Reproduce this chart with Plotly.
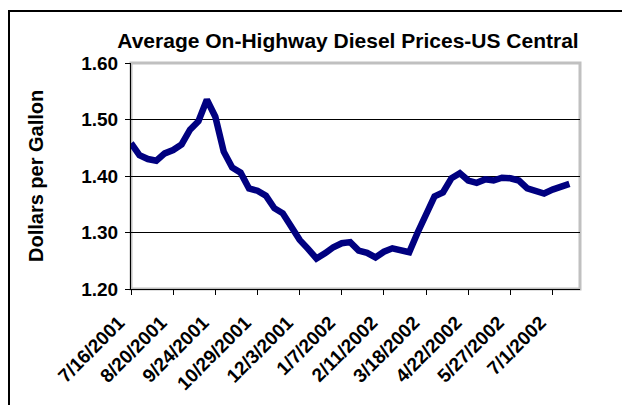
import datetime as dt
import plotly.graph_objects as go

start = dt.date(2001, 7, 16)
weeks = list(range(53))
dates = [(start + dt.timedelta(days=7 * w)).isoformat() for w in weeks]

prices = [1.458, 1.437, 1.430, 1.427, 1.440, 1.446, 1.456, 1.482, 1.497, 1.535,
          1.505, 1.443, 1.415, 1.406, 1.378, 1.374, 1.365, 1.343, 1.334, 1.310,
          1.287, 1.271, 1.254, 1.263, 1.274, 1.281, 1.283, 1.268, 1.264, 1.256,
          1.266, 1.272, 1.269, 1.265, 1.300, 1.334, 1.364, 1.371, 1.396, 1.405,
          1.392, 1.388, 1.394, 1.392, 1.397, 1.396, 1.392, 1.378, 1.372, 1.369,
          1.376, 1.380, 1.386]

tick_dates = dates[::5]
tick_labels = ["7/16/2001", "8/20/2001", "9/24/2001", "10/29/2001", "12/3/2001",
               "1/7/2002", "2/11/2002", "3/18/2002", "4/22/2002", "5/27/2002",
               "7/1/2002"]
y_ticks = [1.20, 1.30, 1.40, 1.50, 1.60]
y_labels = ["1.20", "1.30", "1.40", "1.50", "1.60"]

FONT = "Liberation Sans, Arial, sans-serif"

# figure is drawn 8px in from the page corner (default body margin)
W, H = 622, 397
L, R, T, B = 123, 50, 55, 116
PW, PH = W - L - R, H - T - B

fig = go.Figure()
fig.add_trace(go.Scatter(
    x=dates, y=prices, mode="lines",
    line=dict(color="#000080", width=6.5),
    hoverinfo="skip", showlegend=False,
))

fig.update_layout(
    width=W, height=H,
    margin=dict(l=L, r=R, t=T, b=B, autoexpand=False),
    paper_bgcolor="white", plot_bgcolor="white",
    font=dict(family=FONT, color="black"),
    title=dict(
        text="<b>Average On-Highway Diesel Prices-US Central</b>",
        font=dict(family=FONT, size=21, color="black"),
        x=340 / W, xanchor="center", xref="container",
        y=1 - 33 / H, yanchor="middle", yref="container",
    ),
    xaxis=dict(
        type="date", automargin=False,
        range=["2001-07-16", "2002-07-23 19:00"],
        tickmode="array", tickvals=tick_dates,
        ticktext=["<b>%s</b>" % t for t in tick_labels],
        tickangle=-45,
        tickfont=dict(family=FONT, size=19, color="black"),
        ticks="outside", ticklen=5, tickcolor="black", tickwidth=1,
        showline=True, linecolor="black", linewidth=1,
        showgrid=False, zeroline=False,
        ticklabelstandoff=9, ticklabelshift=-12,
    ),
    yaxis=dict(
        automargin=False,
        range=[1.20, 1.60],
        tickmode="array", tickvals=y_ticks,
        ticktext=["<b>%s</b>" % t for t in y_labels],
        tickfont=dict(family=FONT, size=19, color="black"),
        ticks="outside", ticklen=5, tickcolor="black", tickwidth=1,
        showline=True, linecolor="black", linewidth=1,
        showgrid=True, gridcolor="black", gridwidth=1,
        zeroline=False,
        ticklabelstandoff=3,
    ),
    annotations=[dict(
        text="<b>Dollars per Gallon</b>", textangle=-90,
        xref="paper", yref="paper", x=(28 - L) / PW, y=0.5,
        xanchor="center", yanchor="middle", showarrow=False,
        font=dict(family=FONT, size=20, color="black"),
    )],
    shapes=[
        dict(type="rect", xref="paper", yref="paper",
             x0=0, x1=1, y0=0, y1=1,
             line=dict(color="#c0c0c0", width=3), layer="between"),
        dict(type="rect", xref="paper", yref="paper",
             x0=(1 - L) / PW, x1=(W + 40 - L) / PW,
             y0=-1.0, y1=(H - B - 3) / PH,
             line=dict(color="black", width=2), layer="above"),
    ],
)

fig.write_html("out.html")
